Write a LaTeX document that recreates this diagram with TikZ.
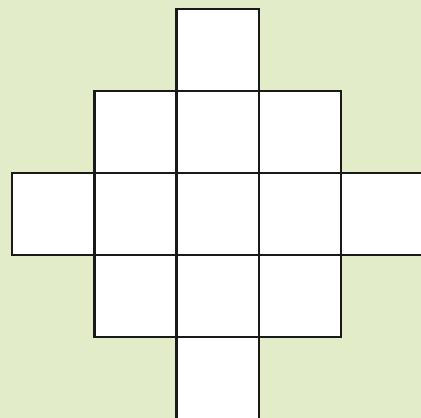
\documentclass[tikz,border=0pt]{standalone}
\usepackage{tikz}
\definecolor{paper}{RGB}{226,236,201}
\definecolor{rule}{RGB}{25,25,25}
\tikzset{cell/.style={draw=rule, line width=2.4pt, fill=white}}
\begin{document}
\begin{tikzpicture}
  \useasboundingbox (0, 0) rectangle (421pt, 418pt);
  \clip (0, 0) rectangle (421pt, 418pt);
  \fill[paper] (0, 0) rectangle (421pt, 418pt);
  \begin{scope}[shift={(12pt, -1pt)}, x=82.3pt, y=82pt]
    \foreach \c/\r in {2/4, 1/3, 2/3, 3/3, 0/2, 1/2, 2/2, 3/2, 4/2, 1/1, 2/1, 3/1, 2/0}
      \draw[cell] (\c, \r) rectangle ++(1, 1);
  \end{scope}
\end{tikzpicture}
\end{document}
